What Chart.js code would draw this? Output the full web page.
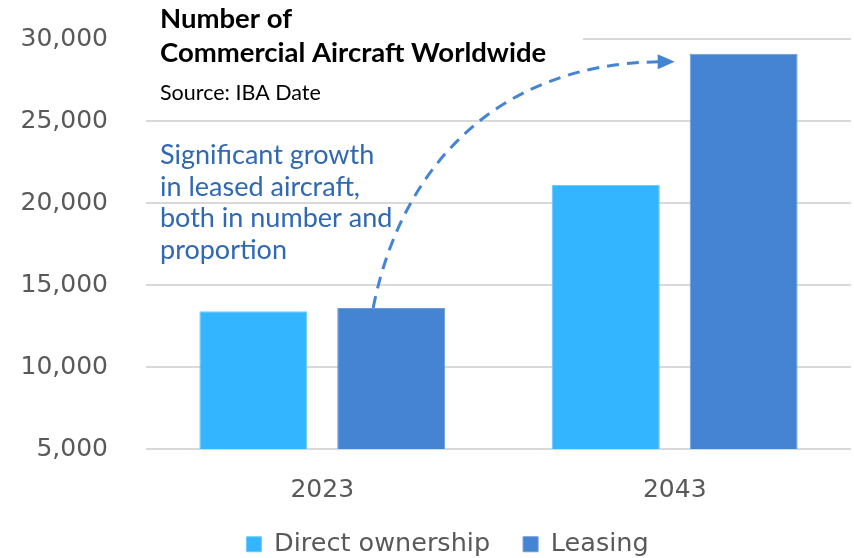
<!DOCTYPE html>
<html>
<head>
<meta charset="utf-8">
<script src="https://cdn.jsdelivr.net/npm/chart.js@4.4.1/dist/chart.umd.min.js"></script>
<style>
  html, body { margin: 0; padding: 0; background: #fff; }
  #chart { display: block; }
</style>
</head>
<body>
<canvas id="chart" width="854" height="558"></canvas>
<script>
// data
const years = ["2023", "2043"];
const directOwnership = [13400, 21100];
const leasing = [13600, 29100];
const yMin = 5000;
const yMax = 30000;
const yStep = 5000;

const titleLines = ["Number of", "Commercial Aircraft Worldwide"];
const sourceText = "Source: IBA Date";
const noteLines = ["Significant growth", "in leased aircraft,", "both in number and", "proportion"];

const axisGrey = "#595959";
const lightBlue = "#33B5FF";
const midBlue = "#4484D3";

// legend sits a bit right of centre and overlaps the x-axis box in the original
const legendShift = {
  id: "legendShift",
  afterLayout(chart) {
    const lg = chart.legend;
    lg.left += 44;
    lg.top -= 8.5;
  }
};

// title, source, note and the dashed arrow
const extrasPlugin = {
  id: "extras",
  afterDraw(chart) {
    const ctx = chart.ctx;
    const y = chart.scales.y;
    const area = chart.chartArea;
    ctx.save();

    // title box hides the top grid line behind the text
    ctx.fillStyle = "#fff";
    ctx.fillRect(area.left, y.getPixelForValue(yMax) - 4, 583 - area.left, 8);

    ctx.fillStyle = "#000";
    ctx.textBaseline = "alphabetic";
    ctx.textAlign = "left";
    ctx.font = "bold 27.5px Lato";
    ctx.fillText(titleLines[0], 160, 28);
    ctx.fillText(titleLines[1], 160, 62);
    ctx.font = "21.5px Lato";
    ctx.fillText(sourceText, 160, 100);

    ctx.fillStyle = "#2F68B4";
    ctx.font = "27px Lato";
    noteLines.forEach((line, i) => ctx.fillText(line, 160, 164 + i * 31.5));

    // arrow from the 2023 leasing bar to the 2043 leasing bar
    const b1 = chart.getDatasetMeta(1).data[0];
    const b2 = chart.getDatasetMeta(1).data[1];
    const sx = b1.x - b1.width / 6, sy = b1.y;
    const tipX = b2.x - b2.width / 2 - 15, tipY = b2.y + 8;
    const ex = tipX - 15, ey = tipY;
    const dx = ex - sx, dy = sy - ey;

    ctx.strokeStyle = midBlue;
    ctx.lineWidth = 3;
    ctx.setLineDash([12, 8]);
    ctx.beginPath();
    ctx.moveTo(sx, sy);
    ctx.bezierCurveTo(sx + 0.094 * dx, sy - 0.557 * dy, sx + 0.42 * dx, ey + 2, ex, ey);
    ctx.stroke();
    ctx.setLineDash([]);

    ctx.fillStyle = midBlue;
    ctx.beginPath();
    ctx.moveTo(tipX, tipY);
    ctx.lineTo(tipX - 17, tipY - 7.5);
    ctx.lineTo(tipX - 17, tipY + 7.5);
    ctx.closePath();
    ctx.fill();

    ctx.restore();
  }
};

new Chart(document.getElementById("chart"), {
  type: "bar",
  data: {
    labels: years,
    datasets: [
      {
        label: "Direct ownership",
        data: directOwnership,
        backgroundColor: lightBlue,
        borderColor: "#6CCBFF",
        borderWidth: 1,
        categoryPercentage: 0.782,
        barPercentage: 0.783
      },
      {
        label: "Leasing",
        data: leasing,
        backgroundColor: midBlue,
        borderColor: "#6A9CDC",
        borderWidth: 1,
        categoryPercentage: 0.782,
        barPercentage: 0.783
      }
    ]
  },
  options: {
    responsive: false,
    animation: false,
    devicePixelRatio: 1,
    layout: { padding: { left: 0, right: 3, top: 39, bottom: 0 } },
    plugins: {
      tooltip: { enabled: false },
      legend: {
        position: "bottom",
        maxHeight: 51,
        labels: {
          boxWidth: 15,
          boxHeight: 15,
          padding: 33,
          color: axisGrey,
          font: { family: "DejaVu Sans", size: 25.5 }
        }
      }
    },
    scales: {
      x: {
        grid: { display: false },
        border: { display: false },
        ticks: {
          color: axisGrey,
          padding: 18,
          font: { family: "DejaVu Sans", size: 25 }
        },
        afterFit(scale) { scale.height = 58; }
      },
      y: {
        min: yMin,
        max: yMax,
        // invisible tick marks give the gap between labels and plot
        grid: { color: "#D9D9D9", lineWidth: 2, drawTicks: true, tickLength: 38, tickColor: "rgba(0,0,0,0)" },
        border: { display: false },
        ticks: {
          stepSize: yStep,
          color: axisGrey,
          padding: 0,
          font: { family: "DejaVu Sans", size: 25 },
          callback: v => v.toLocaleString("en-US")
        },
        afterFit(scale) { scale.width = 146; }
      }
    }
  },
  plugins: [legendShift, extrasPlugin]
});
</script>
</body>
</html>
